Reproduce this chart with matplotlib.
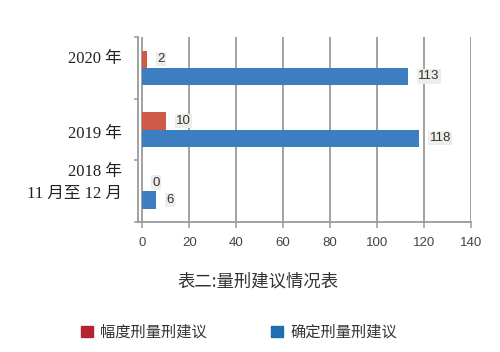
import matplotlib.pyplot as plt
from matplotlib.patches import Patch

# data
categories = ["2020 年", "2019 年", "2018 年\n11 月至 12 月"]
range_sentence = [2, 10, 0]      # 幅度刑量刑建议
fixed_sentence = [113, 118, 6]   # 确定刑量刑建议
series_names = ["幅度刑量刑建议", "确定刑量刑建议"]
x_ticks = [0, 20, 40, 60, 80, 100, 120, 140]
title = "表二:量刑建议情况表"

RED = "#CF5A48"
BLUE = "#3D7EC0"
RED_LEG = "#B2242E"
BLUE_LEG = "#1F6EB4"
GRID = "#9A9A9A"
CJK = ["Noto Sans CJK SC", "DejaVu Sans"]
SERIF = ["Liberation Serif", "Noto Sans CJK SC"]

fig = plt.figure(figsize=(5.0, 3.52), dpi=100)
ax = fig.add_axes([0.276, 0.369, 0.666, 0.526])

pos = [2, 1, 0]
h = 0.28
red_bars = ax.barh([p + h / 2 for p in pos], range_sentence, height=h, color=RED, zorder=3)
blue_bars = ax.barh([p - h / 2 for p in pos], fixed_sentence, height=h, color=BLUE, zorder=3)

label_box = dict(boxstyle="square,pad=0.1", fc="#EFEDEA", ec="none")
for bars, vals in [(red_bars, range_sentence), (blue_bars, fixed_sentence)]:
    for b, v in zip(bars, vals):
        ax.annotate(str(v), (b.get_width(), b.get_y() + b.get_height() / 2),
                    xytext=(7.5, 0), textcoords="offset points", ha="left", va="center",
                    fontsize=9.5, color="#333333", family="Liberation Sans", bbox=label_box)

ax.set_xlim(-1.8, 140)
ax.set_ylim(-0.5, 2.5)
ax.set_xticks(x_ticks)
ax.set_xticklabels([str(t) for t in x_ticks], family="Liberation Sans", fontsize=9.5, color="#444444")
ax.xaxis.grid(True, color=GRID, linewidth=1.3, zorder=0)
ax.tick_params(axis="x", direction="out", length=4, width=1.1, color=GRID, pad=7)

ax.set_yticks([-0.5, 0.5, 1.5, 2.5])
ax.set_yticklabels([])
ax.tick_params(axis="y", direction="out", length=3, width=1.1, color=GRID)

for s in ["top", "right"]:
    ax.spines[s].set_visible(False)
for s in ["left", "bottom"]:
    ax.spines[s].set_color(GRID)
    ax.spines[s].set_linewidth(1.3)

# category labels (sit a bit off-centre in the original)
label_y = [59, 134, 183]
for name, y in zip(categories, label_y):
    fig.text(122 / 500, 1 - y / 352, name, ha="right", va="center", family=SERIF,
             fontsize=12, color="#222222", linespacing=1.55, multialignment="right")

fig.text(258 / 500, 1 - 282 / 352, title, ha="center", va="center", family=CJK,
         fontsize=12.5, color="#333333")

handles = [Patch(color=RED_LEG), Patch(color=BLUE_LEG)]
fig.legend(handles, series_names, loc="center", bbox_to_anchor=(239 / 500, 1 - 332 / 352),
           ncol=2, frameon=False, handlelength=0.75, handleheight=0.75, handletextpad=0.5,
           columnspacing=4.2, prop={"family": CJK, "size": 11}, labelcolor="#333333")

plt.savefig("out.png", dpi=100)
